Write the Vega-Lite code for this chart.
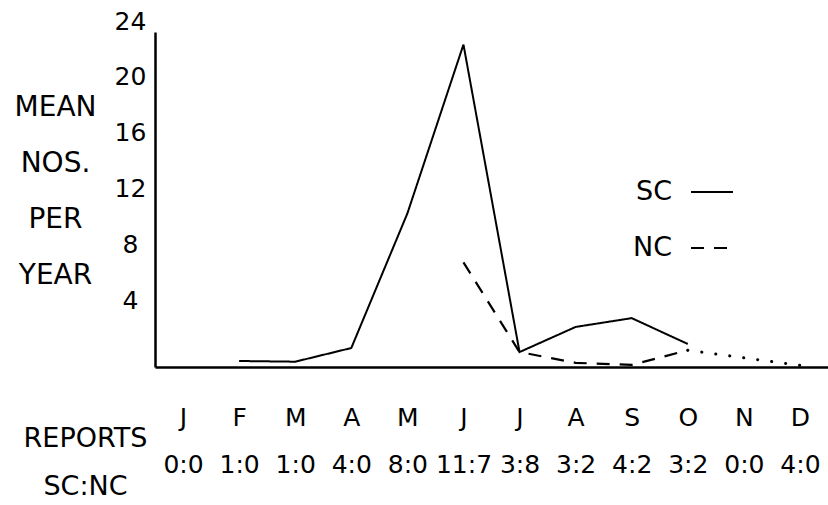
{
  "$schema": "https://vega.github.io/schema/vega-lite/v6.json",
  "width": 673,
  "height": 335,
  "autosize": {"type": "none"},
  "padding": {"left": 155, "top": 32, "right": 0, "bottom": 138},
  "background": "white",
  "data": {
    "values": [
      {"month": "Feb", "value": 0.43, "series": "SC"},
      {"month": "Mar", "value": 0.38, "series": "SC"},
      {"month": "Apr", "value": 1.36, "series": "SC"},
      {"month": "May", "value": 11.0, "series": "SC"},
      {"month": "Jun", "value": 23.1, "series": "SC"},
      {"month": "Jul", "value": 1.07, "series": "SC"},
      {"month": "Aug", "value": 2.87, "series": "SC"},
      {"month": "Sep", "value": 3.5, "series": "SC"},
      {"month": "Oct", "value": 1.65, "series": "SC"},
      {"month": "Jun", "value": 7.5, "series": "NC"},
      {"month": "Jul", "value": 1.07, "series": "NC"},
      {"month": "Aug", "value": 0.3, "series": "NC"},
      {"month": "Sep", "value": 0.15, "series": "NC"},
      {"month": "Oct", "value": 1.2, "series": "NC"},
      {"month": "Oct", "value": 1.2, "series": "dots"},
      {"month": "Dec", "value": 0.12, "series": "dots"}
    ]
  },
  "config": {
    "view": {"stroke": null},
    "font": "DejaVu Sans",
    "axis": {"grid": false, "domainColor": "black", "domainWidth": 2.5, "ticks": false, "labelColor": "black", "titleColor": "black", "labelFont": "DejaVu Sans", "titleFont": "DejaVu Sans", "titleFontWeight": "normal"}
  },
  "encoding": {
    "x": {
      "field": "month",
      "type": "ordinal",
      "scale": {"type": "point", "padding": 0.5, "domain": ["Jan","Feb","Mar","Apr","May","Jun","Jul","Aug","Sep","Oct","Nov","Dec"]},
      "axis": {
        "labelAngle": 0,
        "labelFontSize": 25,
        "labelPadding": 58,
        "labelBaseline": "alphabetic",
        "labelLineHeight": 47,
        "labelExpr": "{'Jan':['J','0:0'],'Feb':['F','1:0'],'Mar':['M','1:0'],'Apr':['A','4:0'],'May':['M','8:0'],'Jun':['J','11:7'],'Jul':['J','3:8'],'Aug':['A','3:2'],'Sep':['S','4:2'],'Oct':['O','3:2'],'Nov':['N','0:0'],'Dec':['D','4:0']}[datum.value]",
        "title": ["REPORTS", "SC:NC"],
        "titleFontSize": 27,
        "titleAngle": 0,
        "titleAlign": "center",
        "titleBaseline": "alphabetic",
        "titleLineHeight": 48,
        "titleX": -70,
        "titleY": 79
      }
    },
    "y": {
      "field": "value",
      "type": "quantitative",
      "scale": {"domain": [0, 24], "nice": false},
      "axis": {
        "values": [4, 8, 12, 16, 20, 24],
        "labelFontSize": 25,
        "labelAlign": "center",
        "labelPadding": 25,
        "labelOffset": -11,
        "title": ["MEAN", "NOS.", "PER", "YEAR"],
        "titleFontSize": 28,
        "titleAngle": 0,
        "titleAlign": "center",
        "titleBaseline": "alphabetic",
        "titleLineHeight": 56,
        "titleX": -100,
        "titleY": 83
      }
    }
  },
  "layer": [
    {
      "transform": [{"filter": "datum.series === 'SC'"}],
      "mark": {"type": "line", "color": "black", "strokeWidth": 2},
      "encoding": {
        "strokeDash": {
          "field": "series",
          "type": "nominal",
          "scale": {"domain": ["SC", "NC"], "range": [[1, 0], [13, 10]]},
          "legend": {
            "title": null,
            "orient": "none",
            "legendX": 535,
            "legendY": 138,
            "padding": 0,
            "symbolType": "stroke",
            "symbolSize": 1764,
            "symbolStrokeWidth": 2,
            "symbolStrokeColor": "black",
            "labelFontSize": 27,
            "labelFont": "DejaVu Sans",
            "labelColor": "black",
            "labelAlign": "right",
            "labelOffset": -62,
            "rowPadding": 21
          }
        }
      }
    },
    {
      "transform": [{"filter": "datum.series === 'NC'"}],
      "mark": {"type": "line", "color": "black", "strokeWidth": 2.2},
      "encoding": {
        "strokeDash": {"field": "series", "type": "nominal"}
      }
    },
    {
      "transform": [{"filter": "datum.series === 'dots'"}],
      "mark": {"type": "line", "color": "black", "strokeWidth": 3, "strokeCap": "round", "strokeDash": [0.1, 14]},
      "encoding": {}
    }
  ]
}
